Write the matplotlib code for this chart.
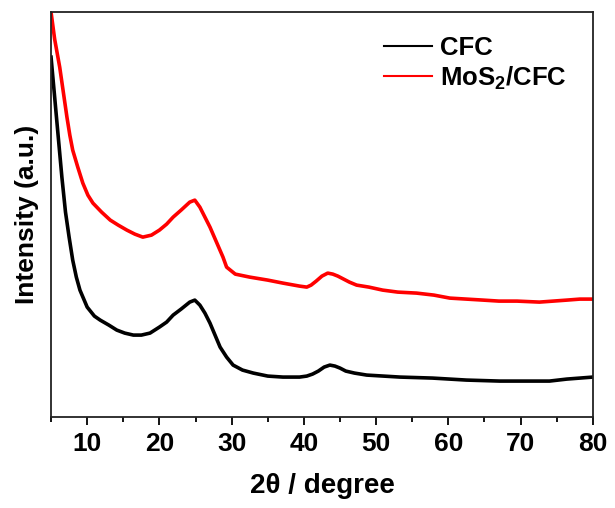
import numpy as np
import matplotlib
matplotlib.use("Agg")
from matplotlib import pyplot as plt
from matplotlib.ticker import MultipleLocator

plt.rcParams['font.family'] = ['Liberation Sans', 'DejaVu Sans']
plt.rcParams['font.weight'] = 'bold'
plt.rcParams['mathtext.fontset'] = 'custom'
plt.rcParams['mathtext.bf'] = 'Liberation Sans:bold'
plt.rcParams['mathtext.rm'] = 'Liberation Sans:bold'

# XRD patterns, intensity in arbitrary units
two_theta_cfc = [5.0, 5.5, 6.0, 6.5, 7.0, 7.5, 8.0, 8.5, 9.0, 10.0, 11.0, 11.8, 13.0, 14.1,
                 15.2, 16.4, 17.5, 18.7, 20.0, 21.0, 21.9, 23.0, 24.2, 24.9, 25.6, 26.3,
                 27.0, 27.7, 28.4, 29.3, 30.2, 31.5, 33.0, 35.0, 37.1, 39.4, 40.4, 41.2,
                 42.0, 42.8, 43.6, 44.3, 45.0, 45.8, 47.0, 48.7, 51.0, 53.3, 57.8, 62.5,
                 67.1, 71.7, 74.0, 76.4, 78.2, 80.0]
intensity_cfc = [360, 320, 280, 240, 205, 180, 157, 140, 127, 110, 101, 97, 92, 87,
                 84, 82, 82, 84, 90, 95, 102, 108, 115, 117, 112, 104,
                 94, 82, 70, 60, 52, 47, 44, 41, 40, 40, 41, 43,
                 46, 50, 52, 51, 49, 46, 44, 42, 41, 40, 39, 37,
                 36, 36, 36, 38, 39, 40]

two_theta_mos2 = [5.0, 5.5, 6.2, 6.7, 7.2, 7.6, 8.0, 8.7, 9.4, 10.1, 10.8, 12.0, 13.2,
                  14.3, 15.5, 16.6, 17.7, 18.9, 20.0, 21.0, 21.9, 23.0, 24.2, 24.9, 25.6,
                  26.3, 27.0, 27.9, 28.8, 29.3, 30.5, 32.5, 35.0, 37.1, 39.4, 40.4, 41.0,
                  41.7, 42.5, 43.3, 44.0, 44.7, 45.5, 46.3, 47.3, 49.0, 50.9, 53.0, 55.6,
                  58.0, 60.2, 62.5, 64.8, 67.0, 69.5, 72.6, 74.5, 76.4, 78.2, 80.0]
intensity_mos2 = [405, 378, 350, 325, 300, 282, 267, 250, 234, 222, 214, 205, 197,
                  192, 187, 183, 180, 182, 187, 193, 200, 207, 215, 217, 210,
                  200, 190, 175, 160, 150, 143, 140, 137, 134, 131, 130, 132,
                  136, 141, 144, 143, 141, 138, 135, 132, 130, 127, 125, 124,
                  122, 119, 118, 117, 116, 116, 115, 116, 117, 118, 118]

fig = plt.figure(figsize=(6.15, 5.08), dpi=100)
ax = fig.add_axes([0.083, 0.179, 0.881, 0.797])

ax.plot(two_theta_cfc, intensity_cfc, color="black", lw=2.6, label="CFC")
ax.plot(two_theta_mos2, intensity_mos2, color="#ff0000", lw=2.6, label="MoS$_\\mathbf{2}$/CFC")

ax.set_xlim(5, 80)
ax.set_ylim(0, 405)
ax.xaxis.set_major_locator(MultipleLocator(10))
ax.xaxis.set_minor_locator(MultipleLocator(5))
ax.set_yticks([])
ax.tick_params(axis="x", which="major", direction="out", length=6, width=1.3, labelsize=19, pad=5)
ax.tick_params(axis="x", which="minor", direction="out", length=3.5, width=1.3)
for lbl in ax.get_xticklabels():
    lbl.set_fontweight("bold")
for sp in ax.spines.values():
    sp.set_linewidth(1.3)
    sp.set_color("#222222")

ax.set_xlabel("2\u03b8 / degree", fontsize=20, fontweight="bold", labelpad=12)
ax.set_ylabel("Intensity (a.u.)", fontsize=19, fontweight="bold", labelpad=9)

leg = ax.legend(loc="upper right", frameon=False, fontsize=18.5, handlelength=1.9,
                handletextpad=0.3, borderaxespad=0.3, labelspacing=0.15,
                bbox_to_anchor=(0.985, 0.985))
for line in leg.get_lines():
    line.set_linewidth(1.5)
for t in leg.get_texts():
    t.set_fontweight("bold")

fig.savefig("out.png", dpi=100)
